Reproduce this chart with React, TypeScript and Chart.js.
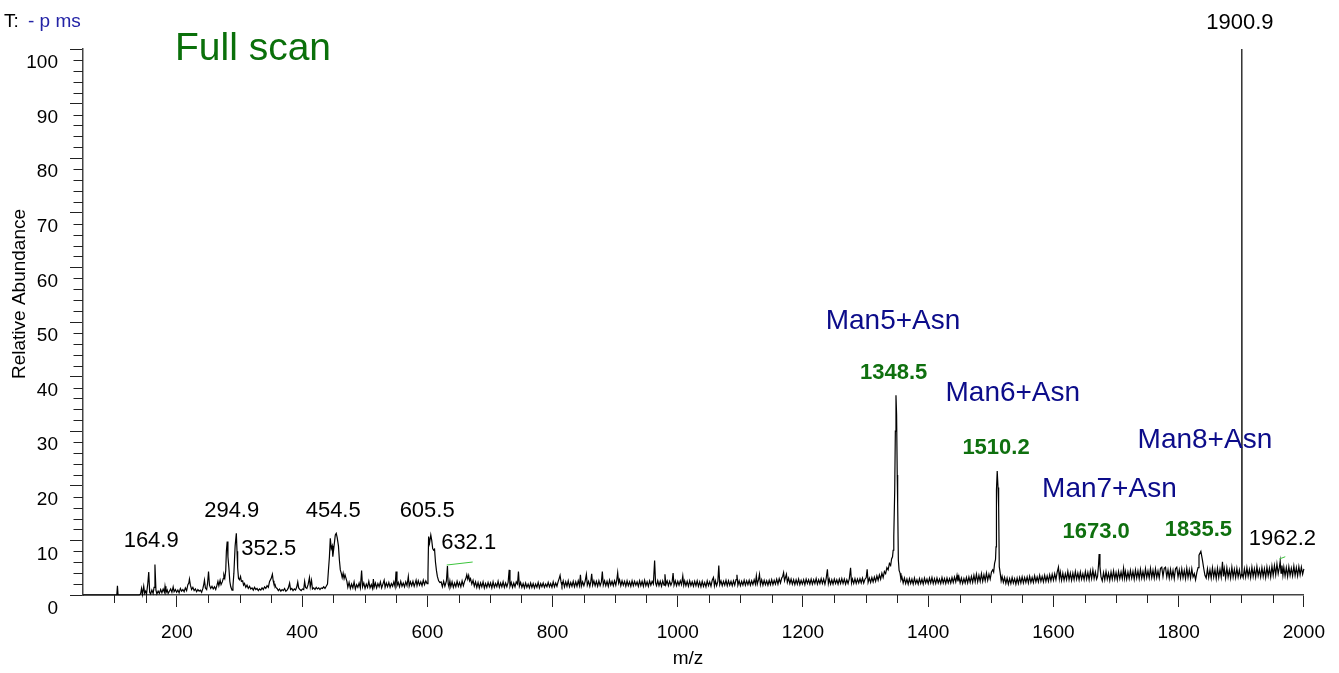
import React, { useEffect, useRef } from 'react';
import { Chart, registerables } from 'chart.js';

Chart.register(...registerables);

const FONT = '"Liberation Sans", Arial, Helvetica, sans-serif';

// Spectrum trace, [m/z, relative abundance %], split by mass range
const traceLowMass: [number, number][] = [
  [50, 0], [104, 0], [105, 1.7], [106, 0], [140, 0], [142, 0.2], [143.5, 1.2], [145, 0.1], [147, 1.6], [148.5, 0.3],
  [150, 0.7], [151.5, 0.2], [153.5, 2.1], [155, 4.2], [156.5, 0.5], [158, 0.2], [160, 0.9], [162, 0.3], [163.5, 1.4],
  [164.9, 5.6], [166.5, 0.9], [168, 0.2], [170, 0.7], [172, 0.3], [174, 1.0], [176, 0.4], [178, 1.1], [180, 0.5],
  [181, 1.6], [182.5, 0.4], [184.5, 0.9], [186, 0.3], [188, 0.7], [190, 1.1], [192, 0.5], [194, 1.5], [195.5, 0.6],
  [197.5, 1.0], [199.5, 0.5], [201.5, 0.9], [203.5, 0.4], [205.5, 1.2], [207.5, 0.7], [209.5, 1.0], [211.5, 0.6],
  [213.5, 1.3], [215.5, 0.8], [217.5, 1.9], [219, 2.2], [220, 2.9], [221.5, 1.8], [223.5, 1.0], [225.5, 1.4],
  [227.5, 0.8], [229.5, 1.1], [231.5, 0.6], [233.5, 1.0], [235.5, 0.7], [237.5, 0.9], [239.5, 0.5], [241.5, 1.2],
  [243, 2.0], [244, 2.7], [245.5, 1.3], [247.5, 1.0], [249, 2.2], [250.5, 4.3], [252, 1.8], [254, 1.2], [256, 1.6],
  [258, 1.1], [260, 1.5], [262, 1.0], [264, 1.8], [265.5, 2.5], [267, 1.7], [269, 2.7], [270.5, 1.9], [272.5, 2.4],
  [274, 3.0], [275, 3.7], [276.5, 3.1], [278, 4.5], [279, 8.0], [280.3, 9.8], [281.5, 7.0], [283, 5.0], [284.5, 2.5],
  [286, 1.5], [288, 0.9], [289.5, 1.6], [291, 4.0], [292, 6.5], [293, 9.0], [294.9, 11.3], [296, 8.0], [297, 5.0],
  [298.4, 3.0], [300, 2.8],
];

const traceLowMid: [number, number][] = [
  [301.6, 3.4], [303, 2.5], [305, 2.6], [306.5, 1.8], [308, 2.1], [310, 1.4], [312, 1.8], [314, 1.2], [316, 1.6],
  [318, 1.1], [320, 1.3], [322, 0.9], [324, 1.4], [326, 1.0], [328, 1.2], [330, 0.8], [332, 1.1], [334, 0.9],
  [336, 1.3], [338, 1.0], [340, 1.5], [342, 1.2], [344, 1.7], [346, 1.4], [348, 2.5], [350.5, 3.0], [352.5, 3.8],
  [353.8, 2.6], [355, 2.0], [356.5, 2.0], [358, 1.4], [360, 1.2], [362, 0.8], [364, 1.1], [366, 0.7], [368, 1.0],
  [370, 0.8], [372, 1.2], [374, 0.7], [376, 0.9], [378, 1.3], [380, 2.2], [381.5, 1.0], [383.5, 1.2], [385.5, 0.8],
  [387.5, 1.1], [389.5, 0.9], [391.5, 1.5], [393, 2.4], [394.5, 1.3], [396.5, 1.0], [398.5, 0.8], [400.5, 1.1],
  [402.5, 1.0], [404, 2.5], [405.5, 1.4], [407.5, 1.2], [409.5, 1.9], [411.7, 3.2], [413, 1.5], [415, 2.7],
  [416.5, 1.1], [418.5, 1.3], [420.5, 1.0], [422.5, 1.4], [424.5, 1.1], [426.5, 1.3], [428.5, 1.0], [430.5, 1.3],
  [432.5, 1.2], [434.5, 1.5], [436.5, 1.2], [438.5, 1.6], [440.5, 2.0], [442, 4.5], [443.6, 7.0], [445, 10.4],
  [446.5, 8.5], [448, 9.0], [449, 7.0], [450, 8.0], [451.5, 9.5], [453, 11.0], [454.5, 11.3], [456, 10.5], [458, 9.0],
  [459.5, 6.4], [461, 4.6], [462.5, 4.0], [464, 3.2], [465.5, 4.0], [467, 3.0], [468.5, 3.7], [470, 3.7],
  [471.5, 2.5], [473, 1.4], [475, 2.3], [477, 1.2], [479, 2.0], [481, 1.3], [483, 2.4], [485, 1.1], [487, 1.9],
  [489, 1.4], [491, 2.2], [493, 1.3], [495, 4.5], [496.5, 1.5], [498.5, 2.2], [500.5, 1.2], [502.5, 2.0],
  [504.5, 1.4], [506.5, 2.5], [508.5, 1.3], [510.5, 1.9], [512.5, 1.2], [513.8, 2.9], [515, 1.4], [517, 2.2],
  [519, 1.3], [521, 2.1], [523, 1.5], [525, 2.4], [527, 1.3], [529, 2.0], [531, 2.7], [532.5, 1.4], [534.5, 2.2],
  [536.5, 1.5], [538.5, 2.3], [540.5, 1.4], [542.5, 2.1], [544.5, 1.6], [546.5, 2.4], [548.5, 1.5], [550, 4.3],
  [551.5, 1.7], [553.5, 2.3], [555.5, 1.5], [557.5, 2.5], [559.5, 1.6], [561.5, 2.2], [563.5, 1.5], [565.5, 2.4],
  [567.5, 1.7], [569.6, 3.4], [571, 1.6], [573, 2.4], [575, 1.7], [577, 2.5], [579, 1.6], [581, 2.3], [582, 2.7],
  [583.5, 1.7], [585.5, 2.6], [587.5, 1.8], [589.5, 2.4], [591.5, 1.7], [593.5, 2.7], [595.5, 1.9], [597.5, 2.6],
  [599.5, 2.1], [601, 4.0], [602, 10.7], [603.5, 9.5], [605.5, 11.0], [607, 10.0], [608.5, 8.5], [610, 8.2],
  [611.5, 8.4], [613, 6.0], [614.5, 4.5], [616, 3.4], [618, 2.6], [620, 2.3],
];

const traceMid: [number, number][] = [
  [622, 2.4], [624, 1.5], [626, 2.5], [628, 1.6], [630.5, 2.6], [632.1, 5.3], [633.3, 2.0], [634.5, 1.5], [636, 2.6],
  [637.5, 1.5], [639.5, 2.4], [641.5, 1.4], [643.5, 2.2], [645.5, 1.5], [647.5, 2.5], [649.5, 1.6], [651.5, 2.3],
  [653.5, 1.5], [655.5, 2.6], [657.5, 1.7], [659.5, 2.5], [661.5, 3.0], [663, 3.7], [664.5, 2.9], [666, 3.6],
  [667.5, 2.6], [669, 3.0], [671, 2.0], [673, 2.7], [675, 1.6], [677, 2.4], [679, 1.4], [681, 2.3], [683, 1.3],
  [685, 2.2], [687, 1.5], [689, 2.4], [691, 1.3], [693, 2.1], [695, 1.4], [697, 2.3], [699, 1.5], [701, 2.2],
  [703, 1.3], [705, 2.4], [707, 1.4], [709, 2.1], [711, 1.5], [713, 2.5], [715, 1.4], [717, 2.2], [719, 1.5],
  [721, 2.4], [723, 1.4], [725, 2.2], [727, 1.5], [729, 2.3], [730.7, 4.6], [732, 1.6], [734, 2.3], [736, 1.4],
  [738, 2.2], [740, 1.5], [742, 2.4], [744, 2.0], [745.5, 4.3], [747, 1.6], [749, 2.3], [751, 1.4], [753, 2.1],
  [755, 1.3], [757, 2.2], [759, 1.4], [761, 2.0], [763, 1.3], [765, 2.2], [767, 1.4], [769, 2.1], [771, 1.3],
  [773, 2.0], [775, 1.4], [777, 2.3], [779, 1.3], [781, 2.1], [783, 1.5], [785, 2.2], [787, 1.4], [789, 2.0],
  [791, 1.5], [793, 2.3], [795, 1.5], [797, 2.1], [799, 1.4], [801, 2.4], [803, 1.5], [805, 2.2], [807, 1.6],
  [809, 2.5], [810.5, 3.0], [812, 3.6], [813.5, 2.4], [815, 1.7], [817, 2.6], [819, 1.5], [821, 2.4], [823, 1.6],
  [825, 2.6], [827, 1.5], [829, 2.3], [831, 1.6], [833, 2.5], [835, 1.5], [837, 2.4], [839, 1.6], [841, 2.6],
  [843, 1.7], [844.5, 3.7], [846, 1.6], [848, 2.4], [850, 1.7], [852, 2.5], [854, 3.8], [855.5, 1.8], [857.5, 2.5],
  [859.5, 1.6], [861, 2.4], [862.5, 3.9], [864, 1.8], [866, 2.6], [868, 1.7], [870, 2.5], [872, 1.6], [874, 2.6],
  [876, 1.7], [878, 2.4], [879.5, 4.3], [881, 1.8], [883, 2.6], [885, 1.7], [887, 2.5], [889, 1.6], [891, 2.7],
  [893, 1.8], [895, 2.5], [897, 1.7], [899, 2.6], [901, 1.8], [902.5, 2.7], [904, 4.1], [905.5, 2.2], [907, 2.8],
  [909, 1.7], [911, 2.6], [913, 1.8], [915, 2.5], [917, 1.6], [919, 2.6], [921, 1.7], [923, 2.4], [925, 1.6],
  [927, 2.6], [929, 1.7], [931, 2.5], [933, 1.8], [935, 2.4], [937, 1.6], [939, 2.6], [941, 1.7], [943, 2.5],
  [945, 1.6], [947, 2.7], [949, 1.7], [951, 2.4], [953, 1.6], [955, 2.6], [957, 1.8], [959, 2.5], [961, 2.0],
  [963, 6.3], [964.5, 2.2], [966, 1.7], [968, 2.6], [970, 1.7], [972, 2.5], [974, 1.6], [976, 2.6], [978, 1.8],
  [979.5, 3.8], [981, 1.9], [983, 2.6], [985, 1.7], [987, 2.5], [989, 1.8], [991, 2.4], [992.5, 4.0], [994, 1.8],
  [996, 2.6], [998, 1.7], [1000, 2.5],
];

const traceUpperMid: [number, number][] = [
  [1002, 1.8], [1004, 2.6], [1006, 1.9], [1008, 3.5], [1009.5, 1.8], [1011, 2.6], [1013, 1.7], [1015, 2.5],
  [1017, 1.6], [1019, 2.6], [1021, 1.7], [1023, 2.4], [1025, 1.6], [1027, 2.5], [1029, 1.7], [1031, 2.6],
  [1033, 1.6], [1035, 2.4], [1037, 1.5], [1039, 2.5], [1041, 1.6], [1043, 2.3], [1045, 1.5], [1047, 2.6],
  [1049, 1.7], [1051, 2.4], [1053, 1.6], [1055, 2.7], [1057, 3.2], [1058.5, 1.7], [1060, 2.6], [1062, 1.7],
  [1064, 2.5], [1065.5, 5.4], [1067, 1.9], [1069, 2.6], [1071, 1.7], [1073, 2.5], [1075, 1.8], [1077, 2.7],
  [1079, 1.7], [1081, 2.6], [1083, 1.8], [1085, 2.5], [1087, 1.7], [1089, 2.6], [1091, 1.8], [1093, 2.8],
  [1094.5, 3.7], [1096, 1.8], [1098, 2.6], [1100, 1.7], [1102, 2.5], [1104, 1.8], [1106, 2.7], [1108, 1.8],
  [1110, 2.6], [1112, 1.9], [1114, 2.7], [1116, 1.8], [1118, 2.6], [1120, 1.9], [1122, 2.8], [1124, 2.0],
  [1125.5, 3.5], [1127, 2.0], [1129, 2.8], [1130.5, 3.8], [1132, 1.9], [1134, 2.8], [1136, 1.8], [1138, 2.7],
  [1140, 1.9], [1142, 2.6], [1144, 1.8], [1146, 2.7], [1148, 1.9], [1150, 2.8], [1152, 1.9], [1154, 2.7],
  [1156, 2.0], [1158, 2.9], [1160, 2.0], [1162, 3.0], [1164, 2.2], [1166, 3.1], [1167.5, 3.4], [1169, 4.1],
  [1170.5, 2.6], [1172, 3.2], [1173.5, 3.8], [1175, 2.3], [1177, 3.1], [1179, 2.1], [1181, 2.9], [1183, 2.0],
  [1185, 2.8], [1187, 1.9], [1189, 2.8], [1191, 2.0], [1193, 2.9], [1195, 1.9], [1197, 2.7], [1199, 2.0],
  [1201, 2.8], [1203, 1.9], [1205, 2.9], [1207, 2.1], [1209, 2.8], [1211, 2.0], [1213, 2.9], [1215, 2.0],
  [1217, 2.8], [1219, 2.1], [1221, 3.0], [1223, 2.0], [1225, 2.8], [1227, 2.1], [1229, 3.0], [1231, 2.1],
  [1233, 2.9], [1235, 2.0], [1237, 3.0], [1239, 4.7], [1240.5, 2.1], [1242, 2.9], [1244, 2.0], [1246, 2.8],
  [1248, 2.0], [1250, 2.9], [1252, 2.1], [1254, 2.8], [1256, 2.0], [1258, 2.9], [1260, 2.1], [1262, 3.0],
  [1264, 2.1], [1266, 2.9], [1268, 2.0], [1270, 2.8], [1272, 2.1], [1274, 3.0], [1276, 5.0], [1277.5, 2.2],
  [1279, 2.9], [1281, 2.1], [1283, 3.0], [1285, 2.1], [1287, 2.9], [1289, 2.2], [1291, 3.0], [1293, 2.2],
  [1295, 3.1], [1297, 2.2], [1299, 2.9], [1301, 3.2], [1302.5, 4.7], [1304, 2.3], [1306, 3.1], [1308, 2.3],
  [1310, 3.2], [1312, 2.4], [1314, 3.3], [1316, 2.5], [1318, 3.5], [1320, 2.7], [1322, 3.7], [1324, 2.9],
  [1326, 4.0], [1328, 3.2], [1330, 4.3],
];

const traceGlycanA: [number, number][] = [
  [1332, 3.9], [1334, 5.0], [1336, 4.6], [1338, 5.8], [1340, 5.4], [1341.5, 6.6], [1343, 7.0], [1344, 8.2],
  [1345, 10.7], [1346.5, 19.2], [1347.5, 30.0], [1348.5, 36.6], [1349.5, 33.0], [1350.5, 22.0], [1351.2, 16.8],
  [1352.3, 6.4], [1353.5, 4.5], [1355, 4.0], [1356.5, 2.8], [1358, 3.3], [1360, 2.2], [1362, 3.1], [1364, 2.1],
  [1366, 2.9], [1368, 2.0], [1370, 3.0], [1372, 2.1], [1374, 2.9], [1376, 2.0], [1378, 3.1], [1380, 2.1],
  [1382, 2.8], [1384, 2.0], [1386, 3.0], [1388, 2.1], [1390, 2.9], [1392, 2.0], [1394, 3.1], [1396, 2.2],
  [1398, 2.9], [1400, 2.1], [1402, 3.1], [1404, 2.2], [1406, 3.2], [1408, 2.1], [1410, 3.0], [1412, 2.1],
  [1414, 3.1], [1416, 2.2], [1418, 2.9], [1420, 2.1], [1422, 3.2], [1424, 2.2], [1426, 3.0], [1428, 2.1],
  [1430, 3.1], [1432, 2.2], [1434, 3.0], [1436, 2.2], [1438, 3.2], [1440, 2.3], [1442, 3.3], [1444, 2.4],
  [1446, 3.6], [1447.5, 2.5], [1449, 3.4], [1451, 2.2], [1453, 3.1], [1455, 2.1], [1457, 3.0], [1459, 2.2],
  [1461, 3.2], [1463, 2.2], [1465, 3.3], [1467, 2.3], [1469, 3.4], [1471, 2.3], [1473, 3.6], [1475, 2.4],
  [1477, 3.8], [1479, 2.4], [1481, 3.6], [1483, 2.5], [1485, 3.9], [1487, 2.5], [1489, 3.7], [1491, 2.6],
  [1493, 4.0], [1495, 2.7], [1497, 3.8], [1499, 2.9], [1501, 4.2], [1503, 4.6], [1504.5, 4.2], [1506, 5.8],
  [1507.5, 6.5], [1508.3, 8.8], [1509, 19.2], [1510.2, 22.7], [1511.5, 19.7], [1512.5, 16.1], [1513.5, 5.2],
  [1515, 4.0], [1516.5, 2.6], [1518, 3.4], [1520, 2.3], [1522, 3.2], [1524, 2.1], [1526, 3.1], [1528, 2.0],
  [1530, 3.0], [1532, 2.1], [1534, 3.2], [1536, 2.2], [1538, 3.0], [1540, 2.0], [1542, 3.1], [1544, 2.1],
  [1546, 3.2], [1548, 2.2], [1550, 3.3], [1552, 2.2], [1554, 3.2], [1556, 2.3], [1558, 3.3], [1560, 2.2],
  [1562, 3.4], [1564, 2.3], [1566, 3.2], [1568, 2.3], [1570, 3.5], [1572, 2.4], [1574, 3.3], [1576, 2.4],
  [1578, 3.6], [1580, 2.5], [1582, 3.4], [1584, 2.4], [1586, 3.6], [1588, 2.5], [1590, 3.5], [1592, 2.5],
  [1594, 3.7], [1596, 2.6], [1598, 3.8], [1600, 2.7], [1602, 3.9], [1604, 2.8], [1606, 4.2], [1608, 5.1],
  [1609.5, 3.0], [1611, 4.2], [1613, 2.7], [1615, 4.0], [1617, 2.7], [1619, 3.9], [1621, 2.8], [1623, 4.3],
  [1625, 2.8], [1627, 4.0], [1629, 2.7], [1631, 4.0], [1633, 2.8], [1635, 4.3], [1637, 2.9], [1639, 4.0],
  [1641, 2.8], [1643, 4.2], [1645, 2.9], [1647, 3.9], [1649, 2.8],
];

const traceGlycanB: [number, number][] = [
  [1651, 4.3], [1653, 2.9], [1655, 4.1], [1657, 2.8], [1659, 4.4], [1661, 3.0], [1663, 4.6], [1665, 3.0],
  [1667, 4.2], [1669, 2.9], [1670.5, 3.4], [1672, 5.5], [1673.0, 7.5], [1674.3, 5.2], [1676, 3.3], [1678, 2.6],
  [1680, 4.1], [1682, 2.8], [1684, 4.3], [1686, 2.9], [1688, 4.0], [1690, 2.7], [1692, 4.2], [1694, 2.9],
  [1696, 4.4], [1698, 2.9], [1700, 4.1], [1702, 2.8], [1704, 4.3], [1706, 3.0], [1708, 4.2], [1710, 3.0],
  [1712, 4.9], [1713.5, 3.1], [1715, 4.3], [1717, 2.9], [1719, 4.2], [1721, 3.0], [1723, 4.5], [1725, 3.1],
  [1727, 4.3], [1729, 2.9], [1731, 4.6], [1733, 3.1], [1735, 4.4], [1737, 3.0], [1739, 4.7], [1741, 3.1],
  [1743, 4.3], [1745, 3.0], [1747, 4.8], [1749, 3.2], [1751, 4.4], [1753, 3.1], [1755, 4.9], [1757, 3.2],
  [1759, 4.5], [1761, 3.1], [1763, 4.8], [1765, 3.2], [1767, 4.4], [1769, 3.1], [1771, 4.9], [1773, 5.1],
  [1775, 3.4], [1777, 4.9], [1779, 5.1], [1781, 3.3], [1783, 4.6], [1785, 3.1], [1787, 4.7], [1789, 3.2],
  [1791, 4.5], [1793, 3.0], [1795, 4.8], [1797, 5.1], [1799, 3.3], [1801, 4.6], [1803, 3.1], [1805, 4.8],
  [1807, 3.2], [1809, 4.5], [1811, 3.0], [1813, 4.9], [1815, 3.2], [1817, 4.6], [1819, 3.1], [1821, 4.8],
  [1823, 3.3], [1825, 3.9], [1827, 2.8], [1829, 4.1], [1831, 5.0], [1832.5, 7.3], [1835.5, 8.0], [1838, 6.4],
  [1840, 4.9], [1842, 3.6], [1844, 3.1], [1846, 4.8], [1848, 3.2], [1850, 4.6], [1852, 3.1], [1854, 5.0],
  [1856, 3.3], [1858, 4.6], [1860, 3.0], [1862, 4.9], [1864, 3.2], [1866, 4.7], [1868, 3.3], [1870, 6.1],
  [1871.5, 3.4], [1873, 4.8], [1875, 3.1], [1877, 5.0], [1879, 3.3], [1881, 4.6], [1883, 3.1], [1885, 5.1],
  [1887, 3.3], [1889, 4.7], [1891, 3.2], [1893, 4.9], [1895, 3.3], [1897, 4.6], [1899, 3.2], [1900.5, 3.8],
  [1900.9, 100], [1901.3, 3.9], [1903, 3.2], [1905, 4.8], [1907, 3.3], [1909, 5.0], [1911, 3.4], [1913, 4.7],
  [1915, 3.2], [1917, 5.1], [1919, 3.4], [1921, 4.8], [1923, 3.3], [1925, 5.2], [1927, 3.5], [1929, 4.7],
  [1931, 3.3], [1933, 5.0], [1935, 3.4], [1937, 4.8], [1939, 3.2], [1941, 5.1], [1943, 3.5], [1945, 4.9],
  [1947, 3.3], [1949, 5.3], [1951, 3.6], [1953, 5.4], [1955, 3.7], [1957, 5.7], [1959, 3.9], [1960.8, 5.0],
  [1962.2, 6.2], [1963.5, 4.0], [1965, 5.4], [1966.5, 3.6], [1968, 5.1], [1970, 3.5], [1972, 5.0], [1974, 3.4],
  [1976, 5.2], [1978, 3.6], [1980, 4.9], [1982, 3.5], [1984, 5.3], [1986, 3.6], [1988, 5.0], [1990, 3.5],
  [1992, 5.2], [1994, 3.7], [1996, 5.1], [1998, 3.8], [2000, 4.8],
];

// Annotated peaks (m/z)
const plainPeakLabels = [164.9, 294.9, 352.5, 454.5, 605.5, 632.1, 1900.9, 1962.2];
const glycanPeakLabels = [1348.5, 1510.2, 1673.0, 1835.5];
const glycanNames = ['Man5+Asn', 'Man6+Asn', 'Man7+Asn', 'Man8+Asn'];

// Axis ranges and ticks
const mzRange = [50, 2000];
const abundanceRange = [0, 100];
const mzMajorStep = 200;
const mzMinorStep = 50;
const abundanceMajorStep = 10;
const abundanceMinorStep = 2;

// Where each annotation text sits, in chart units [m/z, %] (text centre, baseline)
const plainLabelSpots: [number, number][] = [
  [158.9, 8.85], [287.5, 14.34], [346.6, 7.33], [449.6, 14.34], [599.7, 14.34], [666.0, 8.37], [1897.8, 103.6], [1965.7, 9.16],
];
const glycanLabelSpots: [number, number][] = [
  [1344.7, 39.5], [1508.3, 25.77], [1668.2, 10.38], [1831.5, 10.81],
];
const glycanNameSpots: [number, number][] = [
  [1343.8, 48.66], [1535.1, 35.59], [1689.4, 18.0], [1841.9, 26.87],
];
const leaderLines: [number, number, number, number][] = [
  [630.9, 5.49, 672.4, 6.04],
  [1960.7, 6.59, 1970.3, 7.01],
];

const annotations = {
  id: 'spectrumAnnotations',
  afterDraw(chart: any) {
    const { ctx, chartArea } = chart;
    const xs = chart.scales.x;
    const ys = chart.scales.y;
    const px = (v: number) => xs.getPixelForValue(v);
    const py = (v: number) => ys.getPixelForValue(v);
    ctx.save();

    // minor ticks
    ctx.strokeStyle = '#222';
    ctx.lineWidth = 1;
    ctx.beginPath();
    for (let v = abundanceRange[0] + abundanceMinorStep; v < abundanceRange[1]; v += abundanceMinorStep) {
      if (v % abundanceMajorStep === 0) continue;
      const y = Math.round(py(v)) + 0.5;
      ctx.moveTo(chartArea.left - 9.5, y);
      ctx.lineTo(chartArea.left, y);
    }
    for (let m = 100; m <= mzRange[1]; m += mzMinorStep) {
      if (m % mzMajorStep === 0) continue;
      const x = Math.round(px(m)) + 0.5;
      ctx.moveTo(x, chartArea.bottom);
      ctx.lineTo(x, chartArea.bottom + 8);
    }
    ctx.stroke();

    // leader lines
    ctx.strokeStyle = '#3cc43c';
    ctx.lineWidth = 1;
    ctx.beginPath();
    leaderLines.forEach(([m1, v1, m2, v2]) => {
      ctx.moveTo(px(m1), py(v1));
      ctx.lineTo(px(m2), py(v2));
    });
    ctx.stroke();

    ctx.textAlign = 'center';
    ctx.textBaseline = 'alphabetic';

    // plain peak labels
    ctx.fillStyle = '#000';
    ctx.font = `22px ${FONT}`;
    plainPeakLabels.forEach((mz, i) => {
      const [m, v] = plainLabelSpots[i];
      ctx.fillText(mz.toFixed(1), px(m), py(v));
    });

    // glycan peak labels
    ctx.fillStyle = '#0f700f';
    ctx.font = `bold 22px ${FONT}`;
    glycanPeakLabels.forEach((mz, i) => {
      const [m, v] = glycanLabelSpots[i];
      ctx.fillText(mz.toFixed(1), px(m), py(v));
    });

    // glycan names
    ctx.fillStyle = '#0c0c8a';
    ctx.font = `28px ${FONT}`;
    glycanNames.forEach((name, i) => {
      const [m, v] = glycanNameSpots[i];
      ctx.fillText(name, px(m), py(v));
    });

    // axis titles
    ctx.fillStyle = '#000';
    ctx.font = `19px ${FONT}`;
    ctx.fillText('m/z', 688, 664);
    ctx.save();
    ctx.translate(25, 294);
    ctx.rotate(-Math.PI / 2);
    ctx.fillText('Relative Abundance', 0, 0);
    ctx.restore();

    // header texts
    ctx.textAlign = 'left';
    ctx.fillStyle = '#000';
    ctx.font = `19px ${FONT}`;
    ctx.fillText('T:', 4, 27);
    ctx.fillStyle = '#2323a6';
    ctx.fillText('- p ms', 28, 27);
    ctx.fillStyle = '#0a700a';
    ctx.font = `39px ${FONT}`;
    ctx.fillText('Full scan', 175, 60);

    ctx.restore();
  },
};

export default function App() {
  const canvasRef = useRef<HTMLCanvasElement>(null);

  useEffect(() => {
    const canvas = canvasRef.current;
    if (!canvas) return;
    const trace = [
      ...traceLowMass, ...traceLowMid, ...traceMid, ...traceUpperMid, ...traceGlycanA, ...traceGlycanB,
    ].map(([x, y]) => ({ x, y }));

    const chart = new Chart(canvas, {
      type: 'line',
      data: {
        datasets: [
          {
            data: trace,
            borderColor: '#000',
            borderWidth: 1.2,
            pointRadius: 0,
            tension: 0,
            fill: false,
            clip: false as any,
          },
        ],
      },
      options: {
        animation: false,
        responsive: true,
        maintainAspectRatio: false,
        devicePixelRatio: 1,
        layout: { padding: { left: 0, top: 49, right: 35, bottom: 0 } },
        plugins: { legend: { display: false }, tooltip: { enabled: false }, title: { display: false } },
        scales: {
          x: {
            type: 'linear',
            min: mzRange[0],
            max: mzRange[1],
            afterFit: (s: any) => { s.height = 78; },
            ticks: {
              stepSize: mzMajorStep,
              includeBounds: false,
              color: '#000',
              font: { family: FONT, size: 19 },
              padding: 14,
              maxRotation: 0,
              autoSkip: false,
              callback: (v: any) => String(v),
            },
            grid: { drawOnChartArea: false, drawTicks: true, tickLength: 12, tickColor: '#222', tickWidth: 1 },
            border: { display: true, color: '#444', width: 1.5 },
          },
          y: {
            type: 'linear',
            min: abundanceRange[0],
            max: abundanceRange[1],
            afterFit: (s: any) => { s.width = 83; },
            ticks: {
              stepSize: abundanceMajorStep,
              color: '#000',
              font: { family: FONT, size: 19 },
              padding: 12,
              labelOffset: 14,
              callback: (v: any) => String(v),
            },
            grid: { drawOnChartArea: false, drawTicks: true, tickLength: 13, tickColor: '#222', tickWidth: 1 },
            border: { display: true, color: '#444', width: 1.5 },
          },
        },
      },
      plugins: [annotations],
    });
    return () => chart.destroy();
  }, []);

  return (
    <div style={{ position: 'fixed', left: 0, top: 0, width: 1339, height: 673, background: '#fff' }}>
      <canvas ref={canvasRef} />
    </div>
  );
}
